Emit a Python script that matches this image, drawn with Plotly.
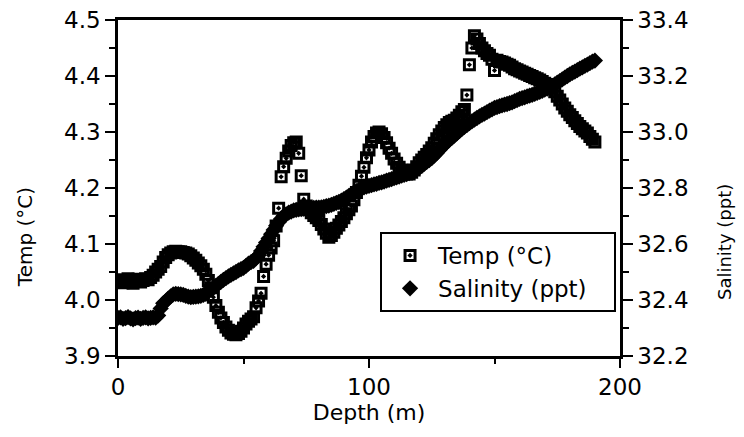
import plotly.graph_objects as go

# depth samples (m)
depth_m = [
    0, 1, 2, 3, 4, 5, 6, 7, 8, 9, 10, 11, 12, 13, 14, 15, 16, 17, 18, 19,
    20, 21, 22, 23, 24, 25, 26, 27, 28, 29, 30, 31, 32, 33, 34, 35, 36, 37, 38, 39,
    40, 41, 42, 43, 44, 45, 46, 47, 48, 49, 50, 51, 52, 53, 54, 55, 56, 57, 58, 59,
    60, 61, 62, 63, 64, 65, 66, 67, 68, 69, 70, 71, 72, 73, 74, 75, 76, 77, 78, 79,
    80, 81, 82, 83, 84, 85, 86, 87, 88, 89, 90, 91, 92, 93, 94, 95, 96, 97, 98, 99,
    100, 101, 102, 103, 104, 105, 106, 107, 108, 109, 110, 111, 112, 113, 114, 115, 116, 117, 118, 119,
    120, 121, 122, 123, 124, 125, 126, 127, 128, 129, 130, 131, 132, 133, 134, 135, 136, 137, 138, 139,
    140, 141, 142, 143, 144, 145, 146, 147, 148, 149, 150, 151, 152, 153, 154, 155, 156, 157, 158, 159,
    160, 161, 162, 163, 164, 165, 166, 167, 168, 169, 170, 171, 172, 173, 174, 175, 176, 177, 178, 179,
    180, 181, 182, 183, 184, 185, 186, 187, 188, 189, 190,
]

temp_c = [
    4.033, 4.036, 4.031, 4.035, 4.038, 4.033, 4.030, 4.034, 4.037, 4.032,
    4.035, 4.038, 4.036, 4.040, 4.044, 4.050, 4.055, 4.060, 4.068, 4.076,
    4.081, 4.084, 4.086, 4.087, 4.086, 4.086, 4.085, 4.084, 4.082, 4.079,
    4.075, 4.071, 4.066, 4.061, 4.055, 4.046, 4.035, 4.022, 4.005, 3.990,
    3.978, 3.968, 3.960, 3.952, 3.946, 3.941, 3.939, 3.938, 3.940, 3.944,
    3.950, 3.957, 3.962, 3.966, 3.970, 3.986, 3.998, 4.012, 4.042, 4.064,
    4.080, 4.093, 4.106, 4.132, 4.164, 4.220, 4.238, 4.253, 4.266, 4.276,
    4.281, 4.282, 4.262, 4.222, 4.180, 4.168, 4.161, 4.156, 4.151, 4.147,
    4.142, 4.135, 4.127, 4.119, 4.112, 4.115, 4.121, 4.128, 4.134, 4.140,
    4.147, 4.154, 4.161, 4.168, 4.179, 4.192, 4.205, 4.221, 4.237, 4.254,
    4.268, 4.282, 4.292, 4.298, 4.300, 4.297, 4.290, 4.281, 4.271, 4.262,
    4.252, 4.244, 4.237, 4.232, 4.228, 4.225, 4.225, 4.228, 4.232, 4.238,
    4.245, 4.250, 4.255, 4.260, 4.266, 4.272, 4.280, 4.288, 4.295, 4.302,
    4.308, 4.313, 4.317, 4.319, 4.321, 4.325, 4.330, 4.336, 4.340, 4.366,
    4.420, 4.450, 4.472, 4.466, 4.458, 4.450, 4.445, 4.440, 4.437, 4.430,
    4.410, 4.428, 4.426, 4.425, 4.423, 4.421, 4.419, 4.416, 4.413, 4.411,
    4.409, 4.407, 4.405, 4.403, 4.401, 4.399, 4.397, 4.395, 4.393, 4.390,
    4.387, 4.385, 4.382, 4.378, 4.372, 4.364, 4.357, 4.350, 4.343, 4.337,
    4.331, 4.326, 4.320, 4.315, 4.310, 4.306, 4.302, 4.298, 4.292, 4.287,
    4.282,
]

salinity_ppt = [
    32.336, 32.338, 32.333, 32.335, 32.339, 32.334, 32.331, 32.335, 32.337, 32.333,
    32.336, 32.338, 32.334, 32.336, 32.338, 32.337, 32.345, 32.370, 32.388, 32.395,
    32.405, 32.413, 32.420, 32.422, 32.421, 32.420, 32.418, 32.415, 32.412, 32.410,
    32.411, 32.412, 32.413, 32.415, 32.418, 32.422, 32.430, 32.437, 32.443, 32.450,
    32.458, 32.465, 32.472, 32.478, 32.484, 32.490, 32.495, 32.500, 32.506, 32.510,
    32.515, 32.522, 32.530, 32.535, 32.540, 32.550, 32.560, 32.575, 32.590, 32.605,
    32.620, 32.635, 32.650, 32.665, 32.678, 32.690, 32.700, 32.706, 32.712, 32.716,
    32.720, 32.722, 32.724, 32.725, 32.726, 32.727, 32.728, 32.728, 32.729, 32.730,
    32.730, 32.731, 32.733, 32.735, 32.737, 32.740, 32.743, 32.747, 32.750, 32.755,
    32.760, 32.766, 32.772, 32.778, 32.784, 32.789, 32.794, 32.798, 32.802, 32.805,
    32.808, 32.810, 32.813, 32.815, 32.818, 32.820, 32.823, 32.826, 32.829, 32.832,
    32.835, 32.838, 32.841, 32.844, 32.847, 32.850, 32.853, 32.857, 32.862, 32.867,
    32.872, 32.879, 32.886, 32.893, 32.900, 32.907, 32.916, 32.925, 32.935, 32.945,
    32.955, 32.963, 32.971, 32.979, 32.987, 32.995, 33.003, 33.011, 33.018, 33.025,
    33.032, 33.038, 33.044, 33.050, 33.056, 33.061, 33.066, 33.071, 33.076, 33.081,
    33.086, 33.089, 33.092, 33.095, 33.098, 33.100, 33.103, 33.106, 33.110, 33.114,
    33.118, 33.121, 33.124, 33.127, 33.130, 33.133, 33.136, 33.140, 33.143, 33.147,
    33.151, 33.155, 33.160, 33.165, 33.170, 33.176, 33.182, 33.188, 33.194, 33.200,
    33.206, 33.211, 33.216, 33.221, 33.226, 33.231, 33.236, 33.241, 33.246, 33.251,
    33.255,
]

FONT = "DejaVu Sans, Liberation Sans, Arial, sans-serif"

fig = go.Figure()

fig.add_trace(go.Scatter(
    x=depth_m, y=salinity_ppt, mode="markers", name="Salinity (ppt)\u00a0\u00a0\u00a0",
    yaxis="y2", legendrank=2,
    marker=dict(symbol="diamond", size=12.5, color="black", line=dict(width=0)),
))
fig.add_trace(go.Scatter(
    x=depth_m, y=temp_c, mode="markers", name="Temp (°C)",
    legendrank=1,
    marker=dict(symbol="square-open-dot", size=10, color="black", line=dict(width=3)),
))

ax_common = dict(
    tickcolor="black", tickwidth=2, ticks="outside",
    showline=True, linewidth=2.5, linecolor="black",
    showgrid=False, zeroline=False, automargin=False,
    tickfont=dict(size=23),
)

fig.update_layout(
    width=744, height=437,
    margin=dict(l=118, r=124, t=20, b=81),
    paper_bgcolor="white", plot_bgcolor="white",
    font=dict(family=FONT, size=22, color="black"),
    showlegend=True,
    legend=dict(
        x=0.522, y=0.369, xanchor="left", yanchor="top",
        bgcolor="white", bordercolor="black", borderwidth=2,
        itemwidth=46, font=dict(size=23),
    ),
    xaxis=dict(
        range=[0, 200], tickvals=[0, 100, 200], ticktext=["0", "100", "200"],
        ticklen=9,
        minor=dict(tickvals=[50, 150], ticks="outside", ticklen=5, tickwidth=2, tickcolor="black"),
        mirror=True,
        title=dict(text="Depth (m)", standoff=2, font=dict(size=22)),
        **ax_common,
    ),
    yaxis=dict(
        range=[3.9, 4.5], tick0=3.9, dtick=0.1, tickformat=".1f",
        ticklen=10,
        minor=dict(dtick=0.05, tick0=3.9, ticks="outside", ticklen=6, tickwidth=2, tickcolor="black"),
        **ax_common,
    ),
    yaxis2=dict(
        range=[32.2, 33.4], tick0=32.2, dtick=0.2, tickformat=".1f",
        overlaying="y", side="right",
        ticklen=10,
        minor=dict(dtick=0.1, tick0=32.2, ticks="outside", ticklen=6, tickwidth=2, tickcolor="black"),
        **ax_common,
    ),
    annotations=[
        dict(text="Temp (°C)", xref="paper", yref="paper", x=-0.185, y=0.354,
             xanchor="center", yanchor="middle",
             textangle=-90, showarrow=False, font=dict(size=20)),
        dict(text="Salinity (ppt)", xref="paper", yref="paper", x=1.207, y=0.339,
             xanchor="center", yanchor="middle",
             textangle=-90, showarrow=False, font=dict(size=18)),
    ],
)

fig.write_html("out.html", config={"displayModeBar": False},
               post_script="document.body.style.margin='0';")
